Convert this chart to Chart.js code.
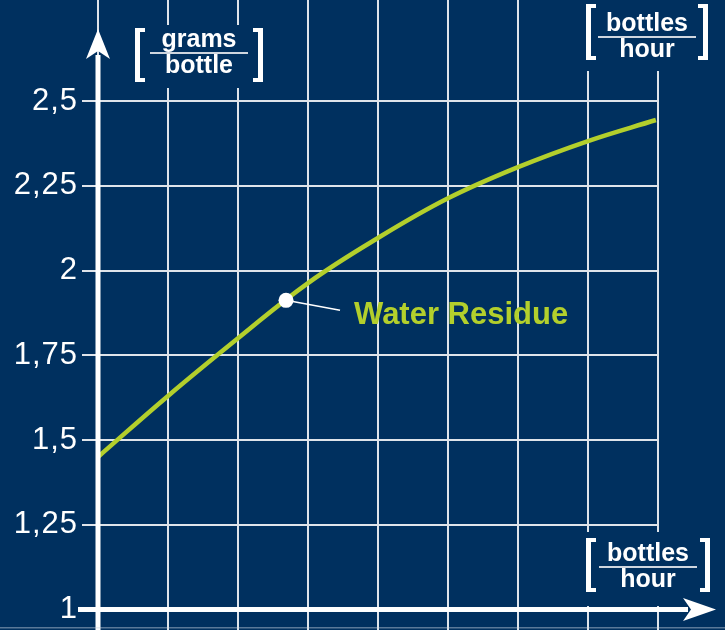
<!DOCTYPE html>
<html>
<head>
<meta charset="utf-8">
<script src="https://cdn.jsdelivr.net/npm/chart.js@4.4.1/dist/chart.umd.min.js"></script>
<style>
    html, body { margin: 0; padding: 0; background: #00305f; }
    #wrap { width: 725px; height: 630px; position: relative; }
</style>
</head>
<body>
<div id="wrap"><canvas id="chart"></canvas></div>
<script>
// ==================== DATA ====================
const X_VALUES = [0, 1, 2, 3, 4, 5, 6, 7, 7.97];
const RESIDUE = [1.45, 1.63, 1.80, 1.963, 2.096, 2.213, 2.305, 2.382, 2.444];
const MARKER_X = 2.686;
const MARKER_Y = 1.912;
const SERIES_LABEL = 'Water Residue';
const Y_TICKS = [1, 1.25, 1.5, 1.75, 2, 2.25, 2.5];
const X_TICKS = [0, 1, 2, 3, 4, 5, 6, 7, 8];
const Y_UNIT = ['grams', 'bottle'];
const X_UNIT = ['bottles', 'hour'];

// ==================== STYLE ====================
const BG = '#00305f';
const LIME = '#b3cf2c';
const GRID = '#dfe4ea';
const FONT = '"Liberation Sans", Arial, Helvetica, sans-serif';

// unit label boxes: fraction line y, bracket extents, centre
const UNIT_BOXES = [
    { lines: Y_UNIT, cx: 199, lineY: 53, top: 28, bottom: 82, half: 64, clear: [128, 25, 142, 63] },
    { lines: X_UNIT, cx: 647, lineY: 37, top: 4, bottom: 60, half: 61, clear: [578, 0, 140, 71] },
    { lines: X_UNIT, cx: 648, lineY: 567, top: 538, bottom: 592, half: 62, clear: [578, 532, 140, 74] },
];

function drawBracket(ctx, x, top, bottom, dir) {
    // dir 1 = opening bracket, -1 = closing
    const w = 5, serif = 10, t = 4;
    const x0 = dir === 1 ? x : x - w;
    ctx.fillRect(x0, top, w, bottom - top);
    const sx = dir === 1 ? x : x - serif;
    ctx.fillRect(sx, top, serif, t);
    ctx.fillRect(sx, bottom - t, serif, t);
}

// wider tick label spacing, like the original artwork
const spacingPlugin = {
    id: 'spacing',
    beforeDraw(chart) { chart.ctx.letterSpacing = '1px'; },
    beforeDatasetsDraw(chart) { chart.ctx.letterSpacing = '0px'; }
};

const decorPlugin = {
    id: 'decor',
    afterDatasetsDraw(chart) {
        const ctx = chart.ctx;
        const xs = chart.scales.x, ys = chart.scales.y;
        const ax = xs.getPixelForValue(0);
        const ay = ys.getPixelForValue(1);
        ctx.save();

        // unit labels (cover the grid behind them)
        UNIT_BOXES.forEach(b => {
            ctx.fillStyle = BG;
            ctx.fillRect(b.clear[0], b.clear[1], b.clear[2], b.clear[3]);
            ctx.fillStyle = '#ffffff';
            drawBracket(ctx, b.cx - b.half, b.top, b.bottom, 1);
            drawBracket(ctx, b.cx + b.half, b.top, b.bottom, -1);
            ctx.fillStyle = '#cfd6df';
            ctx.fillRect(b.cx - 49, b.lineY - 1, 98, 2);
            ctx.fillStyle = '#ffffff';
            ctx.font = 'bold 25px ' + FONT;
            ctx.textAlign = 'center';
            ctx.textBaseline = 'alphabetic';
            ctx.fillText(b.lines[0], b.cx, b.lineY - 6);
            ctx.fillText(b.lines[1], b.cx, b.lineY + 20);
        });

        // axes with arrows
        ctx.fillStyle = '#ffffff';
        ctx.fillRect(ax - 2.5, 55, 5, chart.height - 55);
        ctx.beginPath();
        ctx.moveTo(ax, 29);
        ctx.lineTo(ax + 12, 59);
        ctx.lineTo(ax, 51);
        ctx.lineTo(ax - 12, 59);
        ctx.closePath();
        ctx.fill();

        ctx.fillRect(78, ay - 2.5, 610, 5);
        ctx.beginPath();
        ctx.moveTo(716, ay);
        ctx.lineTo(683, ay - 11.5);
        ctx.lineTo(691, ay);
        ctx.lineTo(683, ay + 11.5);
        ctx.closePath();
        ctx.fill();

        // faint frame line along the bottom edge
        ctx.fillStyle = 'rgba(200, 210, 225, 0.45)';
        ctx.fillRect(0, chart.height - 3, chart.width, 1.5);

        // series label with leader line
        const mx = xs.getPixelForValue(MARKER_X);
        const my = ys.getPixelForValue(MARKER_Y);
        ctx.strokeStyle = '#ffffff';
        ctx.lineWidth = 1.5;
        ctx.beginPath();
        ctx.moveTo(mx, my);
        ctx.lineTo(mx + 54, my + 10);
        ctx.stroke();
        ctx.beginPath();
        ctx.fillStyle = '#ffffff';
        ctx.arc(mx, my, 7.5, 0, Math.PI * 2);
        ctx.fill();
        ctx.fillStyle = LIME;
        ctx.font = 'bold 31px ' + FONT;
        ctx.textAlign = 'left';
        ctx.fillText(SERIES_LABEL, mx + 68, my + 24);

        ctx.restore();
    }
};

const ctx = document.getElementById('chart').getContext('2d');
new Chart(ctx, {
    type: 'scatter',
    data: {
        datasets: [{
            label: SERIES_LABEL,
            data: X_VALUES.map((x, i) => ({ x: x, y: RESIDUE[i] })),
            showLine: true,
            borderColor: LIME,
            borderWidth: 4.5,
            pointRadius: 0,
            tension: 0.4,
        }]
    },
    options: {
        responsive: true,
        maintainAspectRatio: false,
        animation: false,
        layout: { padding: { left: 0, right: 67, top: 0, bottom: 0 } },
        plugins: { legend: { display: false }, tooltip: { enabled: false } },
        scales: {
            x: {
                type: 'linear',
                min: 0,
                max: 8,
                afterBuildTicks: s => { s.ticks = X_TICKS.map(v => ({ value: v })); },
                afterFit: s => { s.height = 0; s.paddingLeft = 0; s.paddingRight = 0; },
                ticks: { display: false },
                border: { display: false },
                grid: { color: GRID, lineWidth: 2, drawTicks: false },
            },
            y: {
                type: 'linear',
                min: 0.9395,
                max: 2.798,
                afterBuildTicks: s => { s.ticks = Y_TICKS.map(v => ({ value: v })); },
                afterFit: s => { s.width = 98; s.paddingTop = 0; s.paddingBottom = 0; },
                border: { display: false },
                grid: { color: GRID, lineWidth: 2, tickLength: 16, drawTicks: true },
                ticks: {
                    color: '#ffffff',
                    padding: 4,
                    font: { family: FONT, size: 31 },
                    callback: v => String(v).replace('.', ','),
                },
            }
        }
    },
    plugins: [spacingPlugin, decorPlugin]
});
</script>
</body>
</html>
